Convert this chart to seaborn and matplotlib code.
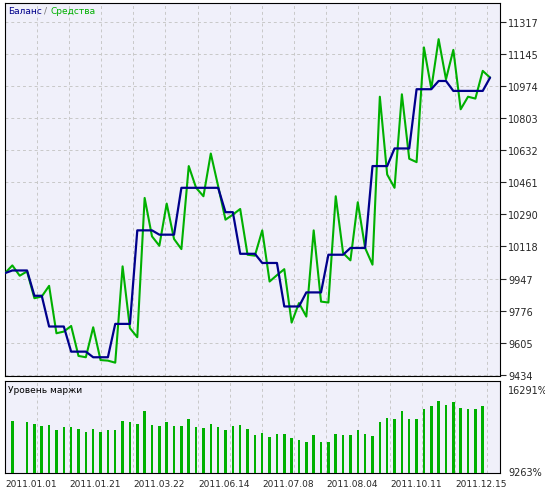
import numpy as np
import pandas as pd
import matplotlib
matplotlib.use("Agg")
import matplotlib.pyplot as plt
import seaborn as sns

equity = [9976, 10017, 9962, 9985, 9842, 9851, 9908, 9655, 9664, 9694, 9534, 9527, 9687, 9512, 9509,
          9498, 10012, 9682, 9634, 10377, 10172, 10122, 10347, 10158, 10104, 10547, 10431, 10386, 10614,
          10440, 10261, 10288, 10318, 10074, 10069, 10204, 9931, 9965, 9997, 9712, 9816, 9744, 10204,
          9824, 9819, 10386, 10083, 10044, 10354, 10110, 10021, 10917, 10502, 10431, 10930, 10586, 10568,
          11180, 10960, 11224, 11010, 11167, 10850, 10917, 10907, 11055, 11019]
balance = [9976, 9990, 9990, 9990, 9855, 9855, 9691, 9691, 9691, 9557, 9557, 9557, 9527, 9527, 9527,
           9705, 9705, 9705, 10204, 10204, 10204, 10181, 10181, 10181, 10431, 10431, 10431, 10431, 10431,
           10431, 10301, 10301, 10079, 10079, 10079, 10030, 10030, 10030, 9798, 9798, 9798, 9873, 9873,
           9873, 10074, 10074, 10074, 10110, 10110, 10110, 10547, 10547, 10547, 10641, 10641, 10641,
           10957, 10957, 10957, 11001, 11001, 10948, 10948, 10948, 10948, 10948, 11019]
margin_slots = [1] + list(range(3, 66))
margin = [13571, 13457, 13287, 13146, 13202, 12806, 13032, 13032, 12891, 12635, 12891, 12635, 12806,
          12806, 13571, 13457, 13287, 14421, 13202, 13146, 13457, 13146, 13146, 13741, 13061, 12976,
          13287, 13061, 12806, 13146, 13202, 12891, 12352, 12522, 12210, 12437, 12437, 12125, 11955,
          11785, 12352, 11785, 11785, 12437, 12352, 12352, 12806, 12437, 12267, 13457, 13797, 13741,
          14421, 13741, 13741, 14591, 14846, 15271, 14931, 15186, 14676, 14591, 14591, 14846]
y_ticks = [9434, 9605, 9776, 9947, 10118, 10290, 10461, 10632, 10803, 10974, 11145, 11317]
date_labels = ["2011.01.01", "2011.01.21", "2011.03.22", "2011.06.14", "2011.07.08", "2011.08.04",
               "2011.10.11", "2011.12.15"]

sns.set_style("white")
plt.rcParams["font.family"] = ["DejaVu Sans"]
bg = "#F0F0FA"
W, H = 545, 489
fig = plt.figure(figsize=(W / 100, H / 100), dpi=100)
fig.patch.set_facecolor("white")
ax = fig.add_axes([5 / W, 1 - 377 / H, 495 / W, 373 / H])
ax2 = fig.add_axes([5 / W, 1 - 474 / H, 495 / W, 92 / H])

df = pd.DataFrame({"x": np.arange(len(equity)), "equity": equity, "balance": balance})
xlim = (0, 67.35)
grid_x = np.arange(4.35, 67, 4.37)
for a in (ax, ax2):
    a.set_facecolor(bg)
    for s in a.spines.values():
        s.set_color("black"); s.set_linewidth(0.8)
    a.set_xlim(*xlim)
    for gx in grid_x:
        a.axvline(gx, color="#C8C8C8", lw=0.7, ls=(0, (3, 3)), zorder=0)

sns.lineplot(data=df, x="x", y="equity", ax=ax, color="#00B000", lw=1.5, zorder=3)
sns.lineplot(data=df, x="x", y="balance", ax=ax, color="#00008B", lw=1.6, zorder=4)
ax.set_ylim(9427, 11417)
for t in y_ticks:
    ax.axhline(t, color="#C8C8C8", lw=0.7, ls=(0, (3, 3)), zorder=0)
ax.yaxis.tick_right()
ax.set_yticks(y_ticks)
ax.set_yticklabels([str(t) for t in y_ticks], fontsize=7)
ax.tick_params(axis="y", direction="out", length=4, width=0.8, pad=2)
ax.set_xticks([])
ax.set_xlabel(""); ax.set_ylabel("")
ax.text(0.006, 0.992, "Баланс", color="#00008B", fontsize=6.5, transform=ax.transAxes, va="top")
ax.text(0.078, 0.992, "/", color="#777777", fontsize=6.5, transform=ax.transAxes, va="top")
ax.text(0.092, 0.992, "Средства", color="#00B000", fontsize=6.5, transform=ax.transAxes, va="top")

mdf = pd.DataFrame({"x": margin_slots, "m": margin})
sns.barplot(data=mdf, x="x", y="m", ax=ax2, native_scale=True, color="#00B000", width=0.34,
            saturation=1, linewidth=0, zorder=3)
ax2.set_ylim(9100, 16950)
ax2.set_xlim(*xlim)
ax2.yaxis.tick_right()
ax2.set_yticks([9263, 16291])
ax2.set_yticklabels(["9263%", "16291%"], fontsize=7)
ax2.tick_params(axis="y", length=0, pad=6)
ax2.set_xticks([i * 8.75 for i in range(len(date_labels))])
ax2.set_xticklabels(date_labels, fontsize=6.5, ha="left")
ax2.tick_params(axis="x", direction="out", length=3, width=0.8, pad=1)
ax2.set_xlabel(""); ax2.set_ylabel("")
ax2.text(0.006, 0.96, "Уровень маржи", color="black", fontsize=6.5, transform=ax2.transAxes, va="top")

fig.savefig("out.png", dpi=100, facecolor="white")
